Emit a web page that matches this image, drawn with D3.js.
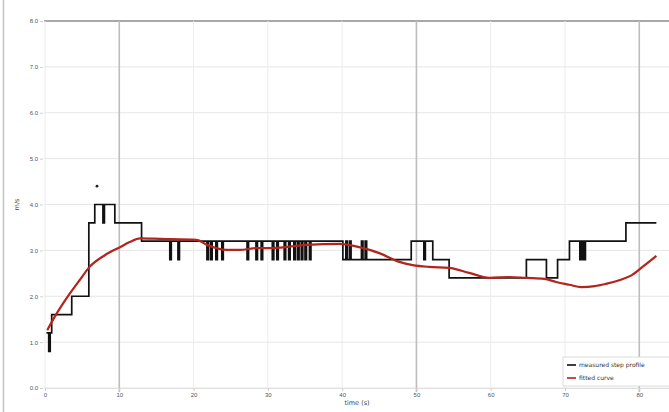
<!DOCTYPE html>
<html>
<head>
<meta charset="utf-8">
<script src="https://cdn.jsdelivr.net/npm/d3@7"></script>
<style>
  html, body { margin: 0; padding: 0; background: #fff; }
  svg { display: block; font-family: "DejaVu Sans", sans-serif; }
</style>
</head>
<body>
<svg id="chart" width="669" height="412"></svg>
<script>
// Axis ticks
const xTicks = [0, 10, 20, 30, 40, 50, 60, 70, 80];
const yTicks = [0, 1, 2, 3, 4, 5, 6, 7, 8];
// Emphasised vertical reference lines
const refLinesX = [10, 50, 80];

// Measured step profile (step-after breakpoints)
const stepX = [0.2, 0.5, 0.7, 0.9, 3.6, 5.9, 6.7, 7.8, 8.0, 9.4, 13.0,
  16.8, 17.0, 17.9, 18.1,
  21.8, 22.0, 22.3, 22.5, 23.0, 23.2, 23.8, 24.0,
  27.2, 27.4, 28.4, 28.6, 29.1, 29.3, 30.6, 30.8, 31.2, 31.4, 32.2, 32.4,
  32.8, 33.0, 33.5, 33.7, 34.0, 34.2, 34.5, 34.7, 35.0, 35.2, 35.6, 35.8,
  40.1, 40.5, 40.7, 41.0, 41.2, 42.6, 42.8, 43.1, 43.3,
  49.3, 51.0, 51.2, 52.2, 54.4, 64.8, 67.5, 69.0, 70.6,
  72.0, 72.15, 72.3, 72.45, 72.6, 72.75, 78.2, 82.3];
const stepY = [1.2, 0.8, 1.2, 1.6, 2.0, 3.6, 4.0, 3.6, 4.0, 3.6, 3.2,
  2.8, 3.2, 2.8, 3.2,
  2.8, 3.2, 2.8, 3.2, 2.8, 3.2, 2.8, 3.2,
  2.8, 3.2, 2.8, 3.2, 2.8, 3.2, 2.8, 3.2, 2.8, 3.2, 2.8, 3.2,
  2.8, 3.2, 2.8, 3.2, 2.8, 3.2, 2.8, 3.2, 2.8, 3.2, 2.8, 3.2,
  2.8, 3.2, 2.8, 3.2, 2.8, 3.2, 2.8, 3.2, 2.8,
  3.2, 2.8, 3.2, 2.8, 2.4, 2.8, 2.4, 2.8, 3.2,
  2.8, 3.2, 2.8, 3.2, 2.8, 3.2, 3.6, 3.6];

// Isolated reading above the profile
const outlierX = [7.0];
const outlierY = [4.4];

// Fitted smooth curve
const fitX = [0.3, 1.3, 3.0, 4.7, 6.0, 8.1, 10.1, 11.4, 12.8, 15.5, 20.4, 21.8,
  24.5, 26.2, 28.5, 30.6, 35.2, 39.7, 42.3, 45.0, 47.7, 49.5, 51.7, 54.4,
  57.1, 59.8, 62.5, 64.8, 67.2, 68.8, 70.6, 72.2, 74.0, 75.5, 77.3, 79.0,
  80.6, 82.3];
const fitY = [1.26, 1.55, 1.98, 2.36, 2.64, 2.90, 3.07, 3.18, 3.26, 3.25, 3.23, 3.12,
  3.01, 3.01, 3.05, 3.05, 3.12, 3.14, 3.07, 2.94, 2.75, 2.68, 2.64, 2.62,
  2.51, 2.40, 2.42, 2.40, 2.38, 2.31, 2.25, 2.20, 2.22, 2.27, 2.35, 2.46,
  2.66, 2.88];

const legendLabels = ["measured step profile", "fitted curve"];
const xLabel = "time (s)";
const yLabel = "m/s";

(function draw() {
  const svg = d3.select("#chart");
  const H = 412;
  const m = { left: 45, right: 669, top: 21, bottom: 388 };

  const x = d3.scaleLinear().domain([0, 84]).range([m.left, m.right]);
  const y = d3.scaleLinear().domain([0, 8]).range([m.bottom, m.top]);

  // outer frame line on the left
  svg.append("line").attr("x1", 3.5).attr("x2", 3.5).attr("y1", 0).attr("y2", H)
    .attr("stroke", "#c4c4c4").attr("stroke-width", 1.5);

  // light grid
  const grid = svg.append("g");
  grid.selectAll("line.h").data(yTicks).join("line")
    .attr("x1", m.left - 1).attr("x2", m.right)
    .attr("y1", d => y(d)).attr("y2", d => y(d))
    .attr("stroke", d => d === 8 ? "#a8a8a8" : "#e6e6e6")
    .attr("stroke-width", d => d === 8 ? 1.8 : 1);
  grid.selectAll("line.v").data(xTicks.filter(d => !refLinesX.includes(d))).join("line")
    .attr("x1", d => x(d)).attr("x2", d => x(d))
    .attr("y1", m.top).attr("y2", m.bottom)
    .attr("stroke", "#ececec").attr("stroke-width", 1);
  grid.selectAll("line.r").data(refLinesX).join("line")
    .attr("x1", d => x(d)).attr("x2", d => x(d))
    .attr("y1", m.top).attr("y2", m.bottom + 4)
    .attr("stroke", "#bdbdbd").attr("stroke-width", 1.6);

  // axes
  const xAxis = d3.axisBottom(x).tickValues(xTicks).tickSize(3).tickPadding(2);
  const gx = svg.append("g").attr("transform", `translate(0,${m.bottom})`).call(xAxis);
  gx.select(".domain").attr("stroke", "#e0e0e0");
  gx.selectAll(".tick line").attr("stroke", "#cfcfcf");
  gx.selectAll("text").attr("font-size", 6).attr("fill", "#555");

  const yAxis = d3.axisLeft(y).tickValues(yTicks).tickSize(3).tickPadding(2)
    .tickFormat(d3.format(".1f"));
  const gy = svg.append("g").attr("transform", `translate(${m.left - 2},0)`).call(yAxis);
  gy.select(".domain").remove();
  gy.selectAll(".tick line").attr("stroke", "#cfcfcf");
  gy.selectAll("text").attr("font-size", 6).attr("fill", "#555");

  svg.append("text").attr("x", (m.left + m.right) / 2).attr("y", 405)
    .attr("text-anchor", "middle").attr("font-size", 6.5).attr("fill", "#444").text(xLabel);
  svg.append("text").attr("transform", `translate(19,${(m.top + m.bottom) / 2}) rotate(-90)`)
    .attr("text-anchor", "middle").attr("font-size", 6.5).attr("fill", "#444").text(yLabel);

  // measured step profile
  const stepData = stepX.map((d, i) => [d, stepY[i]]);
  svg.append("path").datum(stepData)
    .attr("d", d3.line().x(d => x(d[0])).y(d => y(d[1])).curve(d3.curveStepAfter))
    .attr("fill", "none").attr("stroke", "#111").attr("stroke-width", 1.7);

  svg.selectAll("circle.out").data(outlierX.map((d, i) => [d, outlierY[i]])).join("circle")
    .attr("cx", d => x(d[0])).attr("cy", d => y(d[1])).attr("r", 1.4).attr("fill", "#222");

  // fitted curve
  const fitData = fitX.map((d, i) => [d, fitY[i]]);
  svg.append("path").datum(fitData)
    .attr("d", d3.line().x(d => x(d[0])).y(d => y(d[1])).curve(d3.curveMonotoneX))
    .attr("fill", "none").attr("stroke", "#b3241c").attr("stroke-width", 2.2);

  // legend
  const lg = svg.append("g").attr("transform", "translate(563,357)");
  lg.append("rect").attr("x", 0).attr("y", 0).attr("width", 110).attr("height", 29)
    .attr("fill", "#fff").attr("stroke", "#dcdcdc");
  const colors = ["#111", "#b3241c"];
  legendLabels.forEach((t, i) => {
    const yy = 8 + i * 13;
    lg.append("line").attr("x1", 4).attr("x2", 13).attr("y1", yy).attr("y2", yy)
      .attr("stroke", colors[i]).attr("stroke-width", 1.6);
    lg.append("text").attr("x", 16).attr("y", yy + 2).attr("font-size", 6)
      .attr("fill", "#333").text(t);
  });
})();
</script>
</body>
</html>
